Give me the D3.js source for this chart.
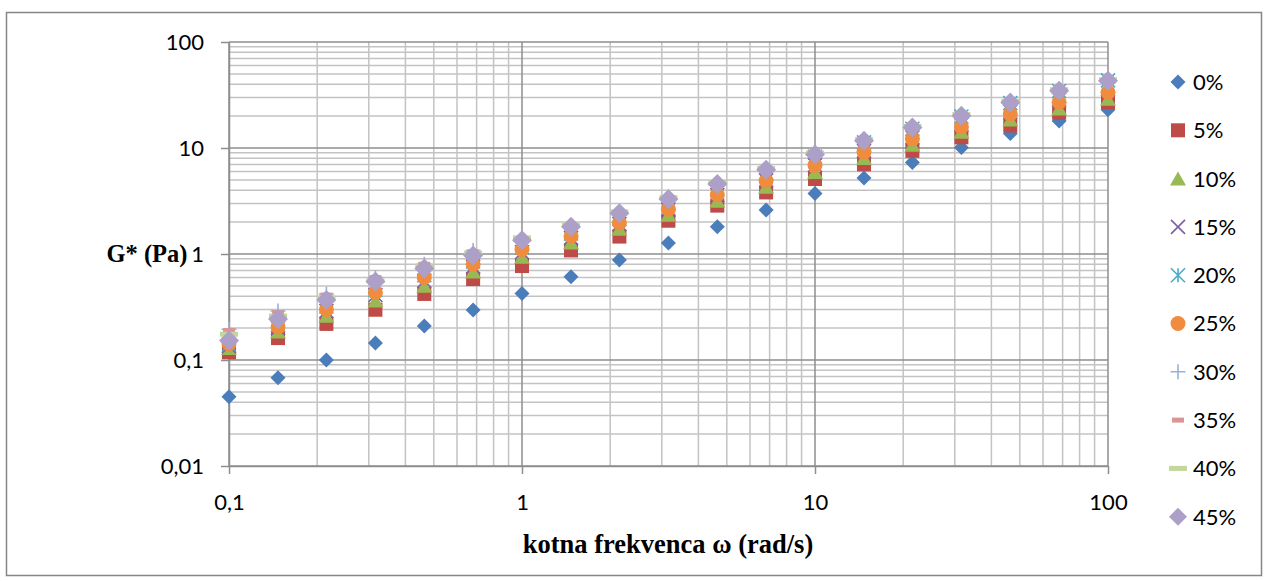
<!DOCTYPE html>
<html>
<head>
<meta charset="utf-8">
<script src="https://cdn.jsdelivr.net/npm/d3@7"></script>
<style>
  html, body { margin: 0; padding: 0; background: #fff; }
  svg { display: block; }
</style>
</head>
<body>
<svg id="chart" width="1266" height="581"></svg>
<script>
// Angular frequency (rad/s), six points per decade
const freq = [0.1, 0.147, 0.215, 0.316, 0.464, 0.681, 1, 1.47, 2.15, 3.16, 4.64, 6.81, 10, 14.7, 21.5, 31.6, 46.4, 68.1, 100];

// Complex modulus G* (Pa) for each concentration
const g00 = [0.045, 0.068, 0.100, 0.145, 0.209, 0.296, 0.425, 0.61, 0.88, 1.27, 1.81, 2.6, 3.72, 5.2, 7.3, 10.1, 13.7, 18.0, 23.0];
const g05 = [0.118, 0.161, 0.219, 0.298, 0.42, 0.58, 0.77, 1.08, 1.46, 2.06, 2.86, 3.81, 5.1, 7.0, 9.4, 12.6, 16.3, 21.5, 27.0];
const g10 = [0.129, 0.185, 0.26, 0.363, 0.50, 0.68, 0.94, 1.28, 1.72, 2.33, 3.16, 4.3, 5.9, 8.0, 10.7, 14.2, 18.5, 23.5, 29.0];
const g15 = [0.135, 0.20, 0.29, 0.41, 0.56, 0.76, 1.04, 1.42, 1.92, 2.62, 3.6, 4.95, 6.9, 9.4, 12.6, 16.6, 22.0, 28.5, 36.0];
const g20 = [0.14, 0.215, 0.32, 0.46, 0.63, 0.85, 1.15, 1.56, 2.15, 3.0, 4.15, 5.8, 8.3, 11.3, 15.2, 19.8, 26.5, 34.5, 43.5];
const g25 = [0.142, 0.205, 0.30, 0.434, 0.60, 0.80, 1.10, 1.47, 1.96, 2.65, 3.62, 4.9, 6.85, 9.2, 12.2, 15.8, 20.9, 27.0, 33.5];
const g30 = [0.195, 0.29, 0.42, 0.60, 0.80, 1.08, 1.38, 1.82, 2.42, 3.3, 4.5, 6.1, 8.5, 11.5, 15.3, 19.8, 26.3, 34.0, 42.0];
const g35 = [0.19, 0.28, 0.41, 0.60, 0.80, 1.05, 1.36, 1.83, 2.45, 3.35, 4.6, 6.2, 8.7, 11.7, 15.5, 20.0, 26.7, 34.5, 42.5];
const g40 = [0.175, 0.26, 0.385, 0.56, 0.76, 1.02, 1.42, 1.88, 2.5, 3.4, 4.7, 6.4, 9.0, 12.0, 16.0, 20.7, 27.5, 35.5, 44.0];
const g45 = [0.153, 0.244, 0.368, 0.55, 0.73, 0.97, 1.35, 1.81, 2.42, 3.3, 4.58, 6.24, 8.7, 11.7, 15.6, 20.2, 26.9, 34.7, 43.0];

const seriesNames = ["0%", "5%", "10%", "15%", "20%", "25%", "30%", "35%", "40%", "45%"];
const seriesValues = [g00, g05, g10, g15, g20, g25, g30, g35, g40, g45];

const xTicks = [0.1, 1, 10, 100];
const yTicks = [0.01, 0.1, 1, 10, 100];

const xTitle = "kotna frekvenca ω (rad/s)";
const yTitle = "G* (Pa)";

// Marker style per series
const markerStyles = [
  { shape: "diamond", color: "#4A7DBA", size: 15 },
  { shape: "square", color: "#BE4B48", size: 14 },
  { shape: "triangle", color: "#98B954", size: 16 },
  { shape: "cross", color: "#7D60A0", size: 14 },
  { shape: "star", color: "#4BACC6", size: 14 },
  { shape: "circle", color: "#F08C3E", size: 15 },
  { shape: "plus", color: "#95B3D7", size: 15 },
  { shape: "shortdash", color: "#D99694", size: 12 },
  { shape: "longdash", color: "#C3D69B", size: 18 },
  { shape: "diamond", color: "#ADA0C8", size: 20 }
];

const svg = d3.select("#chart");

// Outer chart frame
svg.append("rect")
  .attr("x", 6.5).attr("y", 12.5)
  .attr("width", 1255).attr("height", 563)
  .attr("fill", "#fff")
  .attr("stroke", "#868686").attr("stroke-width", 1.5);

const plot = { left: 229, right: 1108, top: 42, bottom: 466 };

const x = d3.scaleLog().domain([0.1, 100]).range([plot.left, plot.right]);
const y = d3.scaleLog().domain([0.01, 100]).range([plot.bottom, plot.top]);

const fmt = d => String(+d.toPrecision(3)).replace(".", ",");
const isMajor = v => Math.abs(Math.log10(v) - Math.round(Math.log10(v))) < 1e-9;

// Grid lines: minor first, major on top
const grid = svg.append("g");
const xGrid = x.ticks();
const yGrid = y.ticks();

grid.selectAll("line.xminor").data(xGrid.filter(v => !isMajor(v))).join("line")
  .attr("x1", d => x(d)).attr("x2", d => x(d))
  .attr("y1", plot.top).attr("y2", plot.bottom)
  .attr("stroke", "#C3C3C3").attr("stroke-width", 1.5);
grid.selectAll("line.yminor").data(yGrid.filter(v => !isMajor(v))).join("line")
  .attr("y1", d => y(d)).attr("y2", d => y(d))
  .attr("x1", plot.left).attr("x2", plot.right)
  .attr("stroke", "#C3C3C3").attr("stroke-width", 1.5);
grid.selectAll("line.xmajor").data(xGrid.filter(isMajor)).join("line")
  .attr("x1", d => x(d)).attr("x2", d => x(d))
  .attr("y1", plot.top).attr("y2", plot.bottom)
  .attr("stroke", "#8E8E8E").attr("stroke-width", 1.5);
grid.selectAll("line.ymajor").data(yGrid.filter(isMajor)).join("line")
  .attr("y1", d => y(d)).attr("y2", d => y(d))
  .attr("x1", plot.left).attr("x2", plot.right)
  .attr("stroke", "#8E8E8E").attr("stroke-width", 1.5);

// Axes
const tickFont = "Lato, 'Open Sans', sans-serif";
const xAxis = svg.append("g")
  .attr("transform", `translate(0,${plot.bottom})`)
  .call(d3.axisBottom(x).tickValues(xTicks).tickFormat(fmt).tickSize(8).tickPadding(20).tickSizeOuter(0));
const yAxis = svg.append("g")
  .attr("transform", `translate(${plot.left},0)`)
  .call(d3.axisLeft(y).tickValues(yTicks).tickFormat(fmt).tickSize(8).tickPadding(17).tickSizeOuter(0));

[xAxis, yAxis].forEach(a => {
  a.select(".domain").attr("stroke", "#8E8E8E").attr("stroke-width", 1.5);
  a.selectAll(".tick line").attr("stroke", "#8E8E8E").attr("stroke-width", 1.5);
  a.selectAll(".tick text").attr("fill", "#000").style("font-family", tickFont).style("font-size", "22px");
});

// Axis titles
svg.append("text")
  .attr("x", 668).attr("y", 553)
  .attr("text-anchor", "middle")
  .style("font-family", "'Liberation Serif', 'Times New Roman', serif")
  .style("font-weight", "bold").style("font-size", "26.5px")
  .text(xTitle);
svg.append("text")
  .attr("x", 147).attr("y", 262)
  .attr("text-anchor", "middle")
  .style("font-family", "'Liberation Serif', 'Times New Roman', serif")
  .style("font-weight", "bold").style("font-size", "24.5px")
  .text(yTitle);

// Marker drawing
function drawMarker(sel, style) {
  const s = style.size / 2, c = style.color;
  switch (style.shape) {
    case "diamond":
      sel.append("path").attr("d", `M0,${-s}L${s},0L0,${s}L${-s},0Z`).attr("fill", c);
      break;
    case "square":
      sel.append("rect").attr("x", -s).attr("y", -s).attr("width", 2 * s).attr("height", 2 * s).attr("fill", c);
      break;
    case "triangle":
      sel.append("path").attr("d", `M0,${-s * 0.9}L${s},${s * 0.85}L${-s},${s * 0.85}Z`).attr("fill", c);
      break;
    case "circle":
      sel.append("circle").attr("r", s).attr("fill", c);
      break;
    case "cross":
      sel.append("path").attr("d", `M${-s},${-s}L${s},${s}M${-s},${s}L${s},${-s}`)
        .attr("stroke", c).attr("stroke-width", 1.6).attr("fill", "none");
      break;
    case "star":
      sel.append("path").attr("d", `M${-s},${-s}L${s},${s}M${-s},${s}L${s},${-s}M0,${-s}L0,${s}`)
        .attr("stroke", c).attr("stroke-width", 1.6).attr("fill", "none");
      break;
    case "plus":
      sel.append("path").attr("d", `M${-s},0L${s},0M0,${-s}L0,${s}`)
        .attr("stroke", c).attr("stroke-width", 1.6).attr("fill", "none");
      break;
    case "shortdash":
    case "longdash":
      sel.append("rect").attr("x", -s).attr("y", -2.5).attr("width", 2 * s).attr("height", 5).attr("fill", c);
      break;
  }
}

// Data points
const points = svg.append("g");
seriesValues.forEach((vals, i) => {
  const g = points.append("g").attr("class", "series");
  freq.forEach((f, j) => {
    const m = g.append("g").attr("transform", `translate(${x(f)},${y(vals[j])})`);
    drawMarker(m, markerStyles[i]);
  });
});

// Legend
const legend = svg.append("g");
seriesNames.forEach((name, i) => {
  const cy = 82 + i * 48.3;
  const m = legend.append("g").attr("transform", `translate(1178,${cy})`);
  drawMarker(m, i === 9 ? { ...markerStyles[i], size: 18 } : markerStyles[i]);
  legend.append("text")
    .attr("x", 1193).attr("y", cy).attr("dy", "0.36em")
    .style("font-family", tickFont).style("font-size", "22px")
    .text(name);
});
</script>
</body>
</html>
